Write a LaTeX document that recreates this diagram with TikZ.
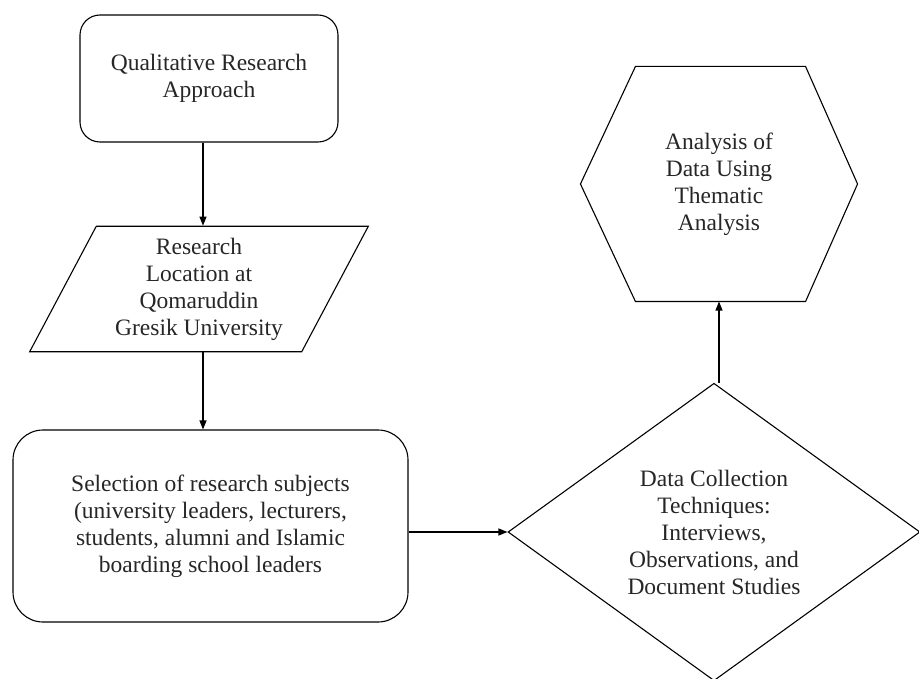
\documentclass[tikz,border=0pt]{standalone}
\usepackage{fontspec}
\setmainfont{Liberation Serif}
\usetikzlibrary{shapes.geometric,arrows.meta}

\begin{document}
\begin{tikzpicture}[x=1pt,y=-1pt,line width=1.1pt,
        every node/.style={font=\fontsize{23.5}{27}\selectfont,text=black!85,
            align=center,inner sep=0pt},
        box/.style={draw,rounded corners=#1},
        slant/.style={draw,trapezium,trapezium left angle=62,
            trapezium right angle=118,minimum width=339pt,minimum height=122pt},
        decision/.style={draw,diamond,minimum width=412pt,minimum height=294pt},
        flow/.style={-{Triangle[width=7pt,length=9pt]}}]
\useasboundingbox (0,0) rectangle (919,679);

\node[box=20pt,minimum width=258pt,minimum height=127pt] (approach) at (209,78.5)
    {Qualitative Research\\Approach};
\node[slant] (location) at (199,289)
    {Research\\Location at\\Qomaruddin\\Gresik University};
\node[box=30pt,minimum width=395pt,minimum height=192pt] (subjects) at (210.5,526)
    {Selection of research subjects\\(university leaders, lecturers,\\students, alumni and Islamic\\boarding school leaders};
\node[decision] (collect) at (714,532)
    {Data Collection\\Techniques:\\Interviews,\\Observations, and\\Document Studies};
\node[minimum width=276pt,minimum height=234pt] (analysis) at (719,184)
    {Analysis of\\Data Using\\Thematic\\Analysis};
\draw (analysis.west) -- ([xshift=55pt]analysis.north west)
    -- ([xshift=-52pt]analysis.north east) -- (analysis.east)
    -- ([xshift=-52pt]analysis.south east) -- ([xshift=55pt]analysis.south west) -- cycle;

\coordinate (spine) at (203,0);
\draw[flow] (approach.south -| spine) -- (location.north -| spine);
\draw[flow] (location.south -| spine) -- (subjects.north -| spine);
\draw[flow] (subjects.east |- collect.west) -- (collect.west);
\draw[flow] (collect.north -| analysis.south) -- (analysis.south);
\end{tikzpicture}
\end{document}
